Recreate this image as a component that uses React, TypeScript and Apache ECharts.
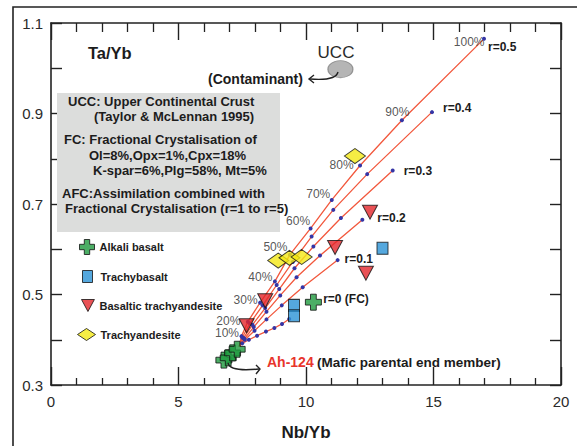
import React, { useEffect, useRef } from 'react';
import * as echarts from 'echarts';

// ---- data ----
const origin: [number, number] = [7.38, 0.385];

const curveNames = ['r=0.5', 'r=0.4', 'r=0.3', 'r=0.2', 'r=0.1', 'r=0 (FC)'];
const curveR05 = [[7.47, 0.408], [7.72, 0.44], [8.2, 0.482], [8.78, 0.529], [9.37, 0.588], [10.18, 0.646], [11.01, 0.709], [12.12, 0.785], [13.76, 0.885], [16.98, 1.065]];
const curveR04 = [[7.5, 0.405], [7.8, 0.436], [8.3, 0.476], [8.85, 0.521], [9.48, 0.572], [10.22, 0.628], [11.07, 0.687], [12.4, 0.766], [14.94, 0.903]];
const curveR03 = [[7.55, 0.404], [7.9, 0.433], [8.4, 0.47], [8.95, 0.512], [9.55, 0.558], [10.29, 0.606], [11.37, 0.669], [13.4, 0.774]];
const curveR02 = [[7.58, 0.402], [7.95, 0.428], [8.45, 0.462], [8.99, 0.498], [9.63, 0.538], [10.55, 0.586], [12.21, 0.665]];
const curveR01 = [[7.6, 0.4], [7.98, 0.42], [8.45, 0.445], [9.05, 0.476], [9.87, 0.516], [11.24, 0.576]];
const curveR0 = [[7.5, 0.392], [7.76, 0.4], [8.08, 0.409], [8.43, 0.418], [8.76, 0.426], [9.06, 0.435], [9.34, 0.446]];
const percentLabels = ['10%', '20%', '30%', '40%', '50%', '60%', '70%', '80%', '90%', '100%'];

const alkaliBasalt = [[6.78, 0.355], [6.95, 0.36], [7.12, 0.371], [7.3, 0.379], [10.29, 0.483]];
const trachybasalt = [[9.53, 0.476], [9.53, 0.453], [13.0, 0.602]];
const basalticTrachyandesite = [[7.67, 0.431], [8.4, 0.486], [11.14, 0.604], [12.51, 0.682], [12.35, 0.547]];
const trachyandesite = [[8.91, 0.575], [9.35, 0.581], [9.83, 0.583], [11.92, 0.806]];
const ucc = [[11.35, 0.998]];

const yLabelValues = [0.3, 0.5, 0.7, 0.9, 1.1];

// ---- styles (not data) ----
const FONT = 'Liberation Sans, Arial, Helvetica, sans-serif';
const TXT = '#1c1c1c';
const LINE_RED = '#f2583d';
const DOT_BLUE = '#3535a5';
const rLabelOffsets = [[-3, 8], [4, -4], [4, 0], [8, -2], [0, -1], [27, -20]];
const pctLabelOffsets = [[3, -3], [-2, -1], [3, -3], [3, -4], [3, -8], [5, -7], [4, -6], [-1, -1], [13, -8], [6, 3]];
const CROSS = 'path://M3.2,0 H6.8 V3.2 H10 V6.8 H6.8 V10 H3.2 V6.8 H0 V3.2 H3.2 Z';
const DOWN_TRI = 'path://M0,0 L10,0 L5,9.3 Z';

export default function App() {
  const ref = useRef<HTMLDivElement>(null);
  useEffect(() => {
    if (!ref.current) return;
    const chart = echarts.init(ref.current, undefined, { renderer: 'svg' });
    const curves = [curveR05, curveR04, curveR03, curveR02, curveR01, curveR0];

    const lineSeries = curves.map((pts, ci) => ({
      name: curveNames[ci],
      type: 'line',
      z: 2,
      data: [
        { value: origin, symbol: 'none' },
        ...pts.map((p, i) =>
          i === pts.length - 1
            ? {
                value: p,
                label: {
                  show: true,
                  position: 'right',
                  formatter: curveNames[ci],
                  offset: rLabelOffsets[ci],
                  fontFamily: FONT,
                  fontSize: 12,
                  fontWeight: 'bold',
                  color: TXT,
                },
              }
            : { value: p }
        ),
      ],
      symbol: 'circle',
      symbolSize: 4,
      showAllSymbol: true,
      itemStyle: { color: DOT_BLUE },
      lineStyle: { color: LINE_RED, width: 1.3 },
      emphasis: { disabled: true },
    }));

    const pctSeries = {
      name: 'pct',
      type: 'scatter',
      z: 6,
      symbolSize: 1,
      itemStyle: { color: 'rgba(0,0,0,0)' },
      data: curveR05.map((p, i) => ({
        value: p,
        label: {
          show: true,
          position: 'left',
          formatter: percentLabels[i],
          offset: pctLabelOffsets[i],
          fontFamily: FONT,
          fontSize: 12,
          color: '#2a2a2a',
        },
      })),
    };

    const border = { borderColor: '#111', borderWidth: 1 };
    const scatterBase = { type: 'scatter', z: 5, emphasis: { disabled: true } };

    const legendBase = {
      orient: 'vertical',
      padding: 0,
      selectedMode: false,
      textStyle: { fontFamily: FONT, fontSize: 11, fontWeight: 'bold', color: TXT },
      itemStyle: { borderColor: '#111', borderWidth: 1 },
    };

    const boxLines: [string, number, number][] = [
      ['UCC: Upper Continental Crust', 68, 101],
      ['(Taylor & McLennan 1995)', 94, 116],
      ['FC: Fractional Crystalisation of', 64, 139],
      ['Ol=8%,Opx=1%,Cpx=18%', 89, 155],
      ['K-spar=6%,Plg=58%, Mt=5%', 93, 170],
      ['AFC:Assimilation combined with', 62, 193],
      ['Fractional Crystalisation (r=1 to r=5)', 65, 208],
    ];

    const txt = (text: string, x: number, y: number, size: number, weight: string, align = 'left', fill = TXT) => ({
      type: 'text',
      x,
      y,
      z: 20,
      style: {
        text,
        fill,
        fontSize: size,
        fontWeight: weight,
        fontFamily: FONT,
        align,
        verticalAlign: 'middle',
        textAlign: align,
        textVerticalAlign: 'middle',
      },
    });

    chart.setOption({
      animation: false,
      backgroundColor: '#ffffff',
      grid: { left: 51, right: 16, top: 23, bottom: 60, containLabel: false },
      xAxis: [
        {
          type: 'value',
          position: 'bottom',
          min: 0,
          max: 20,
          interval: 5,
          name: 'Nb/Yb',
          nameLocation: 'middle',
          nameGap: 39,
          nameTextStyle: { fontFamily: FONT, fontSize: 17, fontWeight: 'bold', color: TXT },
          axisLine: { show: true, onZero: false, lineStyle: { color: '#222', width: 1.6 } },
          axisTick: { show: true, inside: true, length: 18, lineStyle: { color: '#222', width: 1.4 } },
          minorTick: { show: true, splitNumber: 5, length: 7, lineStyle: { color: '#222', width: 1.3 } },
          axisLabel: { fontFamily: FONT, fontSize: 15, color: '#2a2a2a', margin: 9 },
          splitLine: { show: false },
        },
        {
          type: 'value',
          position: 'top',
          min: 0,
          max: 20,
          interval: 5,
          axisLine: { show: true, onZero: false, lineStyle: { color: '#222', width: 1.6 } },
          axisTick: { show: true, inside: true, length: 17, lineStyle: { color: '#222', width: 1.4 } },
          minorTick: { show: true, splitNumber: 5, length: 9, lineStyle: { color: '#222', width: 1.3 } },
          axisLabel: { show: false },
          splitLine: { show: false },
        },
      ],
      yAxis: [
        {
          type: 'value',
          position: 'left',
          min: 0.3,
          max: 1.1,
          interval: 0.1,
          axisLine: { show: true, onZero: false, lineStyle: { color: '#222', width: 1.6 } },
          axisTick: { show: true, inside: true, length: 11, lineStyle: { color: '#222', width: 1.4 } },
          axisLabel: {
            fontFamily: FONT,
            fontSize: 15,
            color: '#2a2a2a',
            margin: 8,
            formatter: (v: number) => (yLabelValues.some((t) => Math.abs(t - v) < 1e-6) ? v.toFixed(1) : ''),
          },
          splitLine: { show: false },
        },
        {
          type: 'value',
          position: 'right',
          min: 0.3,
          max: 1.1,
          interval: 0.1,
          axisLine: { show: true, onZero: false, lineStyle: { color: '#222', width: 1.6 } },
          axisTick: { show: true, inside: true, length: 11, lineStyle: { color: '#222', width: 1.4 } },
          axisLabel: { show: false },
          splitLine: { show: false },
        },
      ],
      legend: [
        { ...legendBase, data: ['Alkali basalt'], left: 79, top: 239, itemWidth: 15, itemHeight: 15 },
        { ...legendBase, data: ['Trachybasalt'], left: 82, top: 270, itemWidth: 10, itemHeight: 12, textStyle: { ...legendBase.textStyle, padding: [0, 0, 0, 3] } },
        { ...legendBase, data: [{ name: 'Basaltic trachyandesite', icon: DOWN_TRI }], left: 81, top: 299, itemWidth: 13, itemHeight: 12 },
        { ...legendBase, data: ['Trachyandesite'], left: 77, top: 328, itemWidth: 18, itemHeight: 12 },
      ],
      series: [
        ...lineSeries,
        pctSeries,
        {
          ...scatterBase,
          name: 'UCC',
          data: ucc,
          symbol: 'circle',
          symbolSize: [25, 17],
          itemStyle: { color: '#a3a3a3', borderColor: '#808080', borderWidth: 1 },
        },
        {
          ...scatterBase,
          name: 'Alkali basalt',
          data: alkaliBasalt,
          symbol: CROSS,
          symbolSize: 16,
          itemStyle: { color: '#1f9a3e', ...border },
        },
        {
          ...scatterBase,
          name: 'Trachybasalt',
          data: trachybasalt,
          symbol: 'rect',
          symbolSize: [11, 12],
          itemStyle: { color: '#2a92d6', ...border },
        },
        {
          ...scatterBase,
          name: 'Basaltic trachyandesite',
          data: basalticTrachyandesite,
          symbol: 'triangle',
          symbolRotate: 180,
          symbolSize: [15, 14],
          itemStyle: { color: '#e3262b', ...border },
        },
        {
          ...scatterBase,
          name: 'Trachyandesite',
          data: trachyandesite,
          symbol: 'diamond',
          symbolSize: [21, 15],
          itemStyle: { color: '#f4e815', ...border },
        },
      ],
      graphic: [
        {
          type: 'polyline',
          z: 20,
          shape: { points: [[13, 446], [13, 7], [577, 7]] },
          style: { stroke: '#222', lineWidth: 1.6, fill: 'none' },
        },
        {
          type: 'rect',
          z: 1,
          shape: { x: 57, y: 93, width: 223, height: 139 },
          style: { fill: '#dcdddc' },
        },
        ...boxLines.map(([t, x, y]) => txt(t, x, y, 13, 'bold')),
        txt('Ta/Yb', 88, 53, 16.5, 'bold'),
        txt('UCC', 336, 52, 17, 'normal', 'center', '#2a2a2a'),
        txt('(Contaminant)', 208, 79, 14, 'bold'),
        {
          type: 'bezierCurve',
          z: 20,
          shape: { x1: 338, y1: 72, x2: 310, y2: 79, cpx1: 336, cpy1: 81 },
          style: { stroke: '#222', lineWidth: 1.4, fill: 'none' },
        },
        {
          type: 'polyline',
          z: 20,
          shape: { points: [[314, 75], [309, 79], [314, 83]] },
          style: { stroke: '#222', lineWidth: 1.4, fill: 'none' },
        },
        {
          type: 'bezierCurve',
          z: 20,
          shape: { x1: 228, y1: 363, x2: 259, y2: 369, cpx1: 230, cpy1: 372 },
          style: { stroke: '#222', lineWidth: 1.4, fill: 'none' },
        },
        {
          type: 'polyline',
          z: 20,
          shape: { points: [[256, 365], [260, 369], [256, 374]] },
          style: { stroke: '#222', lineWidth: 1.4, fill: 'none' },
        },
        {
          type: 'text',
          x: 267,
          y: 362,
          z: 20,
          style: {
            text: '{a|Ah-124} {b|(Mafic parental end member)}',
            verticalAlign: 'middle',
            textVerticalAlign: 'middle',
            rich: {
              a: { fill: '#e8352c', fontSize: 14, fontWeight: 'bold', fontFamily: FONT },
              b: { fill: TXT, fontSize: 13.5, fontWeight: 'bold', fontFamily: FONT },
            },
          },
        },
      ],
    });
    return () => chart.dispose();
  }, []);
  return <div ref={ref} style={{ position: 'absolute', left: 0, top: 0, width: 577, height: 446 }} />;
}
